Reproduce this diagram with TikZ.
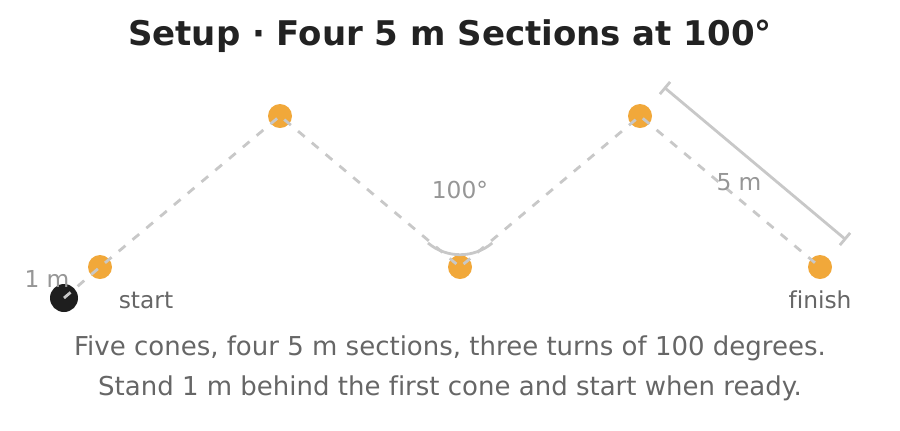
\documentclass[tikz,border=0pt]{standalone}
\usepackage{fontspec}
\setmainfont[Ligatures=NoCommon]{DejaVu Sans}
\usetikzlibrary{calc}
\definecolor{coneorange}{RGB}{241,168,58}
\definecolor{startdark}{RGB}{30,30,30}
\definecolor{pathgray}{RGB}{200,200,200}
\definecolor{labelgray}{RGB}{150,150,150}
\definecolor{textgray}{RGB}{102,102,102}
\definecolor{titleblack}{RGB}{34,34,34}
\tikzset{every picture/.style={line width=0.75pt}}
\tikzset{
  cone/.style={circle,fill=coneorange,inner sep=0pt,minimum size=18pt},
  startdot/.style={circle,fill=startdark,inner sep=0pt,minimum size=21pt},
  runpath/.style={draw=pathgray,line width=2.1pt,dash pattern=on 6.5pt off 7pt},
  dimline/.style={draw=pathgray,line width=2.1pt},
  smalllabel/.style={text=labelgray,font=\fontsize{17.5}{19}\selectfont},
  conelabel/.style={text=textgray,font=\fontsize{17.5}{19}\selectfont},
  caption/.style={text=textgray,font=\fontsize{19.5}{22}\selectfont}
}

\begin{document}
\begin{tikzpicture}[x=0.75pt,y=0.75pt,yscale=-1,xscale=1]
	\useasboundingbox (0,0) rectangle (900,430);
	
	%Text: title
	\node[text=titleblack,font=\bfseries\fontsize{25.5}{29}\selectfont] (title) at (450,36) {Setup · Four 5 m Sections at 100°};
	
	%Shape: Circle (start)
	\node[startdot] (st) at (64,298) {};
	%Shape: Circle (cones)
	\node[cone] (c1) at (100,267) {};
	\node[cone] (c2) at (280,116) {};
	\node[cone] (c3) at (460,267) {};
	\node[cone] (c4) at (640,116) {};
	\node[cone] (c5) at (820,267) {};
	
	%Straight Lines (run)
	\draw[runpath] (st.center) -- (c1.center) -- (c2.center) -- (c3.center) -- (c4.center) -- (c5.center);
	
	%Shape: Arc (turn angle)
	\draw[dimline] (428,243) arc[start angle=130,end angle=50,radius=50];
	
	%Straight Lines (dimension)
	\coordinate (d1) at (665,88);
	\coordinate (d2) at (845,239);
	\draw[dimline] (d1) -- (d2);
	\draw[dimline] ($(d1)+(-5.1,6.1)$) -- ($(d1)+(5.1,-6.1)$);
	\draw[dimline] ($(d2)+(-5.1,6.1)$) -- ($(d2)+(5.1,-6.1)$);
	
	%Text: labels
	\node[smalllabel] (onem) at (47,279) {1 m};
	\node[conelabel] (startlbl) at (146,300) {start};
	\node[conelabel] (finishlbl) at (820,300) {finish};
	\node[smalllabel] (angle) at (460,190) {100°};
	\node[smalllabel] (fivem) at (739,182) {5 m};
	
	%Text: caption
	\node[caption] (cap1) at (450,348) {Five cones, four 5 m sections, three turns of 100 degrees.};
	\node[caption] (cap2) at (450,388) {Stand 1 m behind the first cone and start when ready.};
	
\end{tikzpicture}
\end{document}
